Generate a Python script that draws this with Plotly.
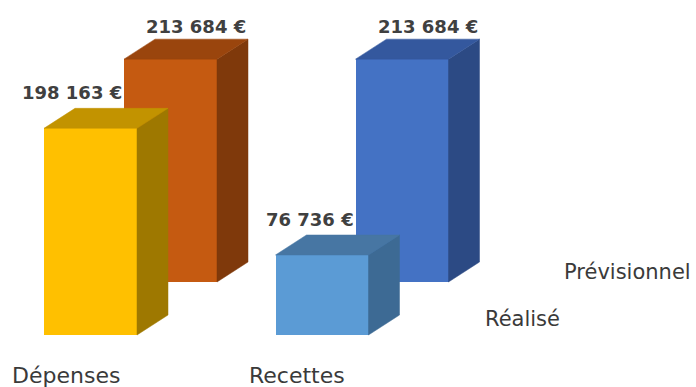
import plotly.graph_objects as go

# ---- data ----
categories = ["Dépenses", "Recettes"]
series_names = ["Réalisé", "Prévisionnel"]
realise = [198163, 76736]
previsionnel = [213684, 213684]

# colours per category: (front, side, top)
realise_colors = [("#FFC000", "#9E7800", "#C29300"), ("#5B9BD5", "#3D6A94", "#4776A3")]
prev_colors = [("#C55A11", "#7F390B", "#9A450D"), ("#4472C4", "#2C4A84", "#34589E")]

W, H = 696, 387
EUR_PER_PX = 958.8          # vertical scale
PX_PER_CAT = 231.5          # horizontal spacing between categories
BAR_W = 93 / PX_PER_CAT     # bar width in category units
DX = 31 / PX_PER_CAT        # 3D depth offset (x)
DY = 20 * EUR_PER_PX        # 3D depth offset (y)


def fmt(v):
    return f"{v:,}".replace(",", " ") + " €"


fig = go.Figure()


def add_series(values, colors, name, xa, ya):
    xs = list(range(len(values)))
    for i, v in enumerate(values):
        front, side, top = colors[i]
        l, r = i - BAR_W / 2, i + BAR_W / 2
        # side face
        fig.add_trace(go.Scatter(
            x=[r, r + DX, r + DX, r, r], y=[0, DY, v + DY, v, 0],
            fill="toself", fillcolor=side, mode="lines",
            line=dict(color=side, width=0.5), hoverinfo="skip",
            showlegend=False, xaxis=xa, yaxis=ya))
        # top face
        fig.add_trace(go.Scatter(
            x=[l, l + DX, r + DX, r, l], y=[v, v + DY, v + DY, v, v],
            fill="toself", fillcolor=top, mode="lines",
            line=dict(color=top, width=0.5), hoverinfo="skip",
            showlegend=False, xaxis=xa, yaxis=ya))
    # front faces
    fig.add_trace(go.Bar(
        x=xs, y=values, width=BAR_W, name=name,
        marker=dict(color=[c[0] for c in colors], line=dict(width=0)),
        customdata=categories,
        hovertemplate="%{customdata}<br>" + name + ": %{y:,} €<extra></extra>",
        showlegend=False, xaxis=xa, yaxis=ya))


# back row (Prévisionnel) on base axes, front row (Réalisé) on overlay axes
add_series(previsionnel, prev_colors, series_names[1], "x", "y")
add_series(realise, realise_colors, series_names[0], "x2", "y2")


def xrange(center0_px):
    return [-center0_px / PX_PER_CAT, (W - center0_px) / PX_PER_CAT]


def yrange(zero_px):
    return [-(H - zero_px) * EUR_PER_PX, zero_px * EUR_PER_PX]


ax_common = dict(visible=False, showgrid=False, zeroline=False, fixedrange=True)
fig.update_layout(
    width=W, height=H,
    margin=dict(l=0, r=0, t=0, b=0),
    paper_bgcolor="white", plot_bgcolor="rgba(0,0,0,0)",
    bargap=0,
    xaxis=dict(range=xrange(170.5), domain=[0, 1], **ax_common),
    yaxis=dict(range=yrange(282), domain=[0, 1], **ax_common),
    xaxis2=dict(range=xrange(90.5), overlaying="x", **ax_common),
    yaxis2=dict(range=yrange(335), overlaying="y", **ax_common),
    font=dict(family="DejaVu Sans", color="#404040"),
)

val_font = dict(family="DejaVu Sans", size=18, color="#404040")
annotations = []
for i, v in enumerate(previsionnel):
    annotations.append(dict(
        x=i + BAR_W / 2 + DX, y=v + DY, xref="x", yref="y",
        text="<b>" + fmt(v) + "</b>", showarrow=False,
        xanchor="right", yanchor="bottom", yshift=0, font=val_font))
for i, v in enumerate(realise):
    annotations.append(dict(
        x=i + BAR_W / 2, y=v + DY, xref="x2", yref="y2",
        text="<b>" + fmt(v) + "</b>", showarrow=False,
        xanchor="right", yanchor="bottom", xshift=-13, yshift=3, font=val_font))

cat_font = dict(family="DejaVu Sans", size=22, color="#3a3a3a")
for i, c in enumerate(categories):
    annotations.append(dict(
        x=i, y=1 - 375 / H, xref="x2", yref="paper", text=c,
        showarrow=False, xanchor="center", yanchor="middle",
        xshift=-25, font=cat_font))

# depth-axis (series) labels
leg_font = dict(family="DejaVu Sans", size=21, color="#3a3a3a")
annotations.append(dict(x=562 / W, y=1 - 272 / H, xref="paper", yref="paper",
                        text=series_names[1], showarrow=False,
                        xanchor="left", yanchor="middle", font=leg_font))
annotations.append(dict(x=483 / W, y=1 - 319 / H, xref="paper", yref="paper",
                        text=series_names[0], showarrow=False,
                        xanchor="left", yanchor="middle", font=leg_font))

fig.update_layout(annotations=annotations)
fig.write_html(
    "out.html",
    config={"displayModeBar": False},
    post_script="document.body.style.margin='0';document.body.style.overflow='hidden';",
)
